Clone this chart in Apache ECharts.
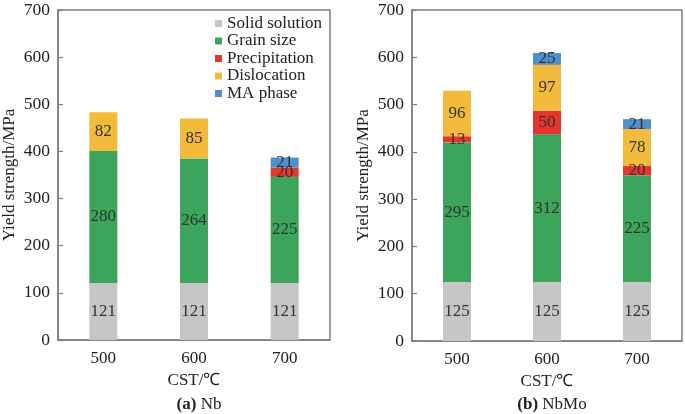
<!DOCTYPE html>
<html><head><meta charset="utf-8">
<script src="https://cdn.jsdelivr.net/npm/echarts@6/dist/echarts.min.js"></script>
<style>html,body{margin:0;padding:0;background:#fff}#c{width:685px;height:414px}</style>
</head><body><div id="c"></div>
<script>
const categories = ['500', '600', '700'];
const seriesNames = ['Solid solution', 'Grain size', 'Precipitation', 'Dislocation', 'MA phase'];
// Panel (a) Nb
const nbSolid = [121, 121, 121];
const nbGrain = [280, 264, 225];
const nbPrecip = [null, null, 20];
const nbDisloc = [82, 85, null];
const nbMA = [null, null, 21];
// Panel (b) NbMo
const nbmoSolid = [125, 125, 125];
const nbmoGrain = [295, 312, 225];
const nbmoPrecip = [13, 50, 20];
const nbmoDisloc = [96, 97, 78];
const nbmoMA = [null, 25, 21];
const yTicks = [0, 100, 200, 300, 400, 500, 600, 700];

const colors = ['#c6c6c6', '#3aa55b', '#e2362e', '#f3bb3b', '#4f8fca'];
const font = 'Liberation Serif';
const axisColor = '#7f7f7f';

function mkX(i) {
  return {
    type: 'category', gridIndex: i, data: categories,
    name: 'CST/\u2103', nameLocation: 'middle', nameGap: 31,
    nameTextStyle: { fontFamily: font, fontSize: 17, color: '#222' },
    axisLine: { lineStyle: { color: axisColor, width: 1.5 } },
    axisTick: { show: false },
    axisLabel: { fontFamily: font, fontSize: 17, color: '#222', margin: 10 }
  };
}
function mkY(i) {
  return {
    type: 'value', gridIndex: i, min: 0, max: 700, interval: 100,
    name: 'Yield strength/MPa', nameLocation: 'middle', nameGap: 40,
    nameTextStyle: { fontFamily: font, fontSize: 17, color: '#222' },
    axisLine: { show: true, lineStyle: { color: axisColor, width: 1.5 } },
    axisTick: { show: true, inside: true, length: 5, lineStyle: { color: axisColor, width: 1.2 } },
    splitLine: { show: false },
    axisLabel: { fontFamily: font, fontSize: 17.5, color: '#222', margin: 8,
      formatter: v => yTicks.includes(v) ? String(v) : '' }
  };
}
function mkSeries(data, idx, panel) {
  return {
    name: seriesNames[idx], type: 'bar', stack: 'p' + panel,
    xAxisIndex: panel, yAxisIndex: panel, data: data, barWidth: 28,
    itemStyle: { color: colors[idx] },
    label: { show: true, position: 'inside', fontFamily: font, fontSize: 17, color: '#333',
      formatter: p => p.value == null ? '' : String(p.value) }
  };
}
const panelA = [nbSolid, nbGrain, nbPrecip, nbDisloc, nbMA];
const panelB = [nbmoSolid, nbmoGrain, nbmoPrecip, nbmoDisloc, nbmoMA];
const series = [];
panelA.forEach((d, i) => series.push(mkSeries(d, i, 0)));
panelB.forEach((d, i) => series.push(mkSeries(d, i, 1)));

const chart = echarts.init(document.getElementById('c'), null, { renderer: 'canvas' });
chart.setOption({
  animation: false,
  backgroundColor: '#fff',
  grid: [
    { left: 58, top: 10, width: 272, height: 330, show: true, borderColor: axisColor, borderWidth: 1.5 },
    { left: 412, top: 10, width: 270, height: 331, show: true, borderColor: axisColor, borderWidth: 1.5 }
  ],
  xAxis: [mkX(0), mkX(1)],
  yAxis: [mkY(0), mkY(1)],
  legend: {
    data: seriesNames, orient: 'vertical', left: 210, top: 10,
    itemWidth: 7, itemHeight: 7, itemGap: 0.5, icon: 'rect',
    textStyle: { fontFamily: font, fontSize: 17, color: '#222', lineHeight: 17 }
  },
  title: [
    { text: '{b|(a)} Nb', left: 194, top: 391, textAlign: 'center',
      textStyle: { fontFamily: font, fontSize: 17, fontWeight: 'normal', color: '#222',
        rich: { b: { fontFamily: font, fontSize: 17, fontWeight: 'bold', color: '#222' } } } },
    { text: '{b|(b)} NbMo', left: 547, top: 391, textAlign: 'center',
      textStyle: { fontFamily: font, fontSize: 17, fontWeight: 'normal', color: '#222',
        rich: { b: { fontFamily: font, fontSize: 17, fontWeight: 'bold', color: '#222' } } } }
  ],
  series: series
});
</script></body></html>
